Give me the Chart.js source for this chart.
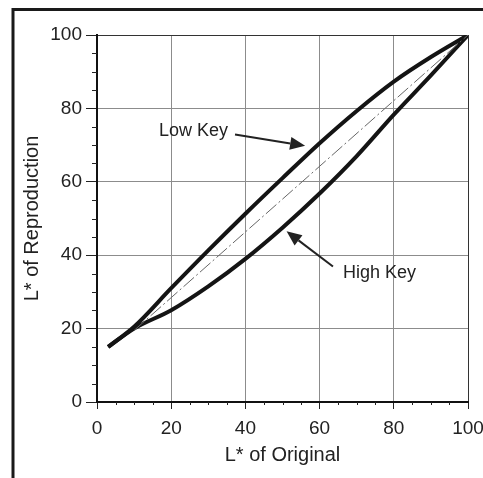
<!DOCTYPE html>
<html>
<head>
<meta charset="utf-8">
<script src="https://cdn.jsdelivr.net/npm/chart.js@4.4.1/dist/chart.umd.min.js"></script>
<style>
  html, body { margin: 0; padding: 0; background: #fff; }
  #wrap { width: 483px; height: 478px; position: relative; }
</style>
</head>
<body>
<div id="wrap"><canvas id="chartjs-0" width="483" height="478"></canvas></div>
<script>
"use strict";

// values (L* of original -> L* of reproduction)
let lowKeyX = [3, 10, 20, 30, 40, 50, 60, 70, 80, 90, 100];
let lowKeyY = [15, 20.5, 31, 41.3, 51.3, 61, 70.5, 79.3, 87.3, 94, 100];
let highKeyX = [3, 10, 20, 30, 40, 50, 60, 70, 80, 90, 100];
let highKeyY = [15, 20, 25, 31.5, 39, 47.5, 56.8, 67, 78.3, 89, 100];
let refLineX = [10, 100];
let refLineY = [19.5, 100];
let tickValues = [0, 20, 40, 60, 80, 100];

// annotation text and arrows, in data units
let notes = [
    { text: "Low Key", tx: 35.3, ty: 73.8, align: "right", x0: 37.2, y0: 72.9, x1: 56.1, y1: 69.8 },
    { text: "High Key", tx: 66.3, ty: 35.2, align: "left", x0: 63.6, y0: 36.9, x1: 51.1, y1: 46.5 }
];

function toPoints(xs, ys) {
    let pts = [];
    for (let i = 0; i < xs.length; i++) {
        pts.push({ x: xs[i], y: ys[i] });
    }
    return pts;
}

let fontName = "'Liberation Sans', Arial, sans-serif";

/* frame, minor ticks and arrows */
let extras = {
    id: "extras",
    beforeDraw(chart) {
        let c = chart.ctx;
        c.save();
        c.fillStyle = "#fff";
        c.fillRect(0, 0, chart.width, chart.height);
        c.strokeStyle = "#1a1a1a";
        c.lineWidth = 3;
        c.beginPath();
        c.moveTo(13, chart.height);
        c.lineTo(13, 9.5);
        c.lineTo(chart.width, 9.5);
        c.stroke();
        c.restore();
    },
    afterDraw(chart) {
        let c = chart.ctx;
        let xs = chart.scales.x;
        let ys = chart.scales.y;
        c.save();
        c.strokeStyle = "#222";
        c.lineWidth = 1;
        for (let v = 5; v < 100; v += 5) {
            if (v % 20 === 0) continue;
            let px = Math.round(xs.getPixelForValue(v)) + 0.5;
            c.beginPath();
            c.moveTo(px, xs.top);
            c.lineTo(px, xs.top + 3);
            c.stroke();
            let py = Math.round(ys.getPixelForValue(v)) + 0.5;
            c.beginPath();
            c.moveTo(ys.right - 5, py);
            c.lineTo(ys.right, py);
            c.stroke();
        }

        c.font = "18px " + fontName;
        c.fillStyle = "#222";
        c.textBaseline = "middle";
        notes.forEach(function (n) {
            c.textAlign = n.align;
            c.fillText(n.text, xs.getPixelForValue(n.tx), ys.getPixelForValue(n.ty));
            let ax = xs.getPixelForValue(n.x0);
            let ay = ys.getPixelForValue(n.y0);
            let bx = xs.getPixelForValue(n.x1);
            let by = ys.getPixelForValue(n.y1);
            let ang = Math.atan2(by - ay, bx - ax);
            let headLen = 15;
            let headW = 6.5;
            let hx = bx - headLen * Math.cos(ang);
            let hy = by - headLen * Math.sin(ang);
            c.strokeStyle = "#222";
            c.lineWidth = 2;
            c.beginPath();
            c.moveTo(ax, ay);
            c.lineTo(hx, hy);
            c.stroke();
            c.beginPath();
            c.moveTo(bx, by);
            c.lineTo(hx + headW * Math.sin(ang), hy - headW * Math.cos(ang));
            c.lineTo(hx - headW * Math.sin(ang), hy + headW * Math.cos(ang));
            c.closePath();
            c.fill();
        });
        c.restore();
    }
};

let ctx0 = document.getElementById("chartjs-0");
let myChart0 = new Chart(ctx0, {
    type: "line",
    data: {
        datasets: [
            {
                label: "Reference",
                data: toPoints(refLineX, refLineY),
                borderColor: "#666",
                borderWidth: 1,
                borderDash: [14, 3, 2, 3],
                pointRadius: 0,
                fill: false
            },
            {
                label: "Low Key",
                data: toPoints(lowKeyX, lowKeyY),
                borderColor: "#141414",
                borderWidth: 4,
                cubicInterpolationMode: "monotone",
                pointRadius: 0,
                fill: false
            },
            {
                label: "High Key",
                data: toPoints(highKeyX, highKeyY),
                borderColor: "#141414",
                borderWidth: 4,
                cubicInterpolationMode: "monotone",
                pointRadius: 0,
                fill: false
            }
        ]
    },
    options: {
        responsive: false,
        animation: false,
        events: [],
        layout: { padding: { left: 12, top: 35, right: 15, bottom: 11 } },
        plugins: {
            legend: { display: false },
            tooltip: { enabled: false }
        },
        scales: {
            x: {
                type: "linear",
                min: 0,
                max: 100,
                afterBuildTicks: function (s) { s.ticks = tickValues.map(v => ({ value: v })); },
                afterFit: function (s) {
                    s.height = 65;
                    s.paddingLeft = 0;
                    s.paddingRight = 0;
                },
                grid: {
                    color: ctx => (ctx.tick && ctx.tick.value === 100 ? "#333" : "#8c8c8c"),
                    lineWidth: 1,
                    tickColor: "#222",
                    tickLength: 7
                },
                border: { color: "#111", width: 2 },
                ticks: {
                    color: "#222",
                    padding: 8,
                    maxRotation: 0,
                    font: { family: fontName, size: 19 }
                },
                title: {
                    display: true,
                    text: "L* of Original",
                    color: "#222",
                    padding: { top: 0, bottom: 0 },
                    font: { family: fontName, size: 20 }
                }
            },
            y: {
                type: "linear",
                min: 0,
                max: 100,
                afterBuildTicks: function (s) { s.ticks = tickValues.map(v => ({ value: v })); },
                afterFit: function (s) { s.width = 85; },
                grid: {
                    color: ctx => (ctx.tick && ctx.tick.value === 100 ? "#333" : "#8c8c8c"),
                    lineWidth: 1,
                    tickColor: "#222",
                    tickLength: 11
                },
                border: { color: "#111", width: 2 },
                ticks: {
                    color: "#222",
                    padding: 4,
                    font: { family: fontName, size: 19 }
                },
                title: {
                    display: true,
                    text: "L* of Reproduction",
                    color: "#222",
                    padding: { top: 8, bottom: 0 },
                    font: { family: fontName, size: 20 }
                }
            }
        }
    },
    plugins: [extras]
});
</script>
</body>
</html>
